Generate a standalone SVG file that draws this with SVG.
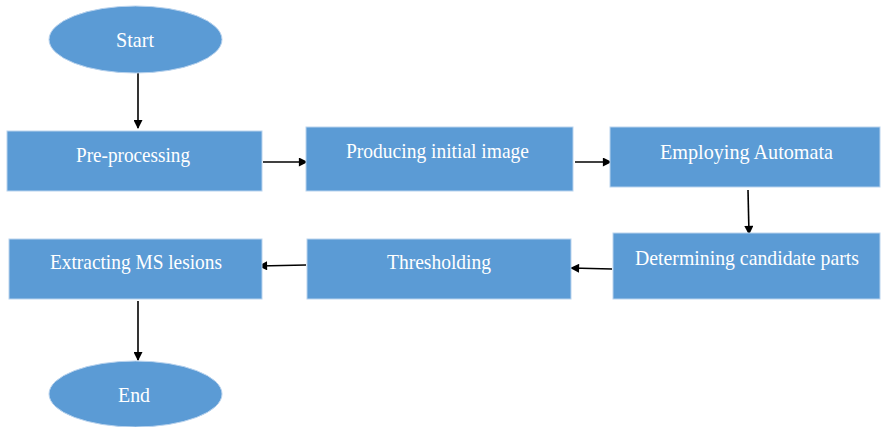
<svg xmlns="http://www.w3.org/2000/svg" width="883" height="427" viewBox="0 0 883 427">
<defs>
<style>
.n{fill:#5b9bd5;stroke:#b9d3ee;stroke-width:1}
.t{fill:#ffffff;font-family:"Liberation Serif","Times New Roman",serif;font-size:22px;text-anchor:middle}
.c{stroke:#000;stroke-width:1.6;fill:none;marker-end:url(#ah)}
</style>
<marker id="ah" viewBox="0 0 10 10" refX="9" refY="5" markerWidth="10" markerHeight="9" markerUnits="userSpaceOnUse" orient="auto">
<path d="M0,0 L10,5 L0,10 z" fill="#000"/>
</marker>
</defs>
<rect width="883" height="427" fill="#ffffff"/>
<g id="connectors">
<line class="c" x1="138" y1="72" x2="138" y2="128"/>
<line class="c" x1="263" y1="162" x2="307" y2="162"/>
<line class="c" x1="575" y1="162" x2="611" y2="162"/>
<line class="c" x1="748" y1="190" x2="749" y2="234"/>
<line class="c" x1="612" y1="269" x2="571" y2="268"/>
<line class="c" x1="306" y1="265" x2="259" y2="266"/>
<line class="c" x1="138" y1="301" x2="138" y2="360"/>
</g>
<g id="start">
<ellipse class="n" cx="135.5" cy="39.5" rx="86.5" ry="33.5"/>
<text class="t" x="135" y="47" textLength="38" lengthAdjust="spacingAndGlyphs">Start</text>
</g>
<g id="preprocessing">
<rect class="n" x="7" y="131" width="255" height="60"/>
<text class="t" x="133" y="162" textLength="114" lengthAdjust="spacingAndGlyphs">Pre-processing</text>
</g>
<g id="producing">
<rect class="n" x="306" y="127" width="267" height="64"/>
<text class="t" x="437.5" y="158" textLength="183" lengthAdjust="spacingAndGlyphs">Producing initial image</text>
</g>
<g id="employing">
<rect class="n" x="610" y="127" width="270" height="60"/>
<text class="t" x="746.5" y="159" textLength="173" lengthAdjust="spacingAndGlyphs">Employing Automata</text>
</g>
<g id="determining">
<rect class="n" x="613" y="233" width="267" height="66"/>
<text class="t" x="747" y="265" textLength="224" lengthAdjust="spacingAndGlyphs">Determining candidate parts</text>
</g>
<g id="thresholding">
<rect class="n" x="307" y="239" width="264" height="60"/>
<text class="t" x="439" y="269" textLength="104" lengthAdjust="spacingAndGlyphs">Thresholding</text>
</g>
<g id="extracting">
<rect class="n" x="9" y="239" width="253" height="60"/>
<text class="t" x="136" y="269" textLength="172" lengthAdjust="spacingAndGlyphs">Extracting MS lesions</text>
</g>
<g id="end">
<ellipse class="n" cx="135.5" cy="394" rx="86.5" ry="33"/>
<text class="t" x="134" y="402" textLength="32" lengthAdjust="spacingAndGlyphs">End</text>
</g>
</svg>
